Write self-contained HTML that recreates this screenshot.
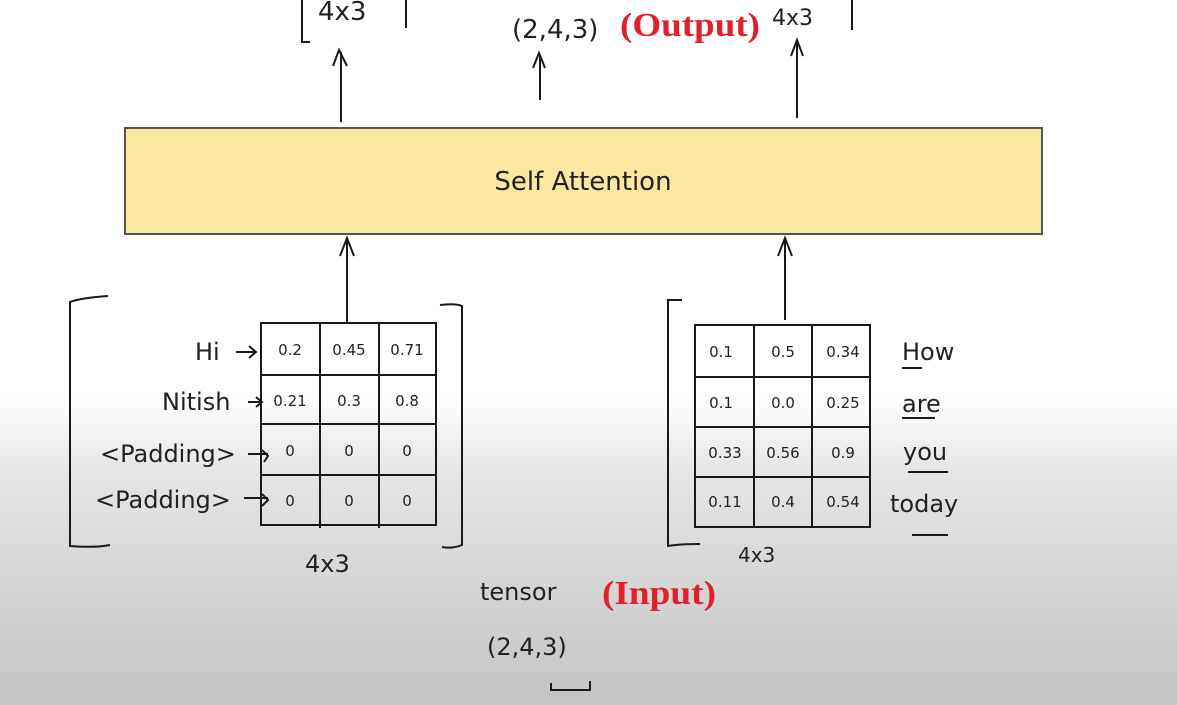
<!DOCTYPE html>
<html><head><meta charset="utf-8"><style>
html,body{margin:0;padding:0}
body{width:1177px;height:705px;overflow:hidden;background:linear-gradient(to bottom,#fff 0px,#fff 395px,#e6e6e6 470px,#c4c4c4 700px);}
svg{position:absolute;left:0;top:0}
text{font-family:"DejaVu Sans","Liberation Sans",sans-serif;fill:#222}
text.red{font-family:"Liberation Serif",serif;font-weight:bold;fill:#e0202a}
</style></head><body>
<svg width="1177" height="705" viewBox="0 0 1177 705">
<g stroke="#1a1a1a" stroke-width="2" fill="none">
<path d="M341 122 V52 M333 66 L339 50 L347 66"/>
<path d="M540 100 V55 M533 68 L539 53 L545 68"/>
<path d="M797 118 V42 M791 56 L797 40 L803 56"/>
<path d="M302 0 V42 H310"/><path d="M406 0 V28"/><path d="M852 0 V30"/>
<path d="M347 322 V240 M340 256 L347 238 L354 256"/>
<path d="M785 320 V240 M778 256 L785 238 L792 256"/>
<path d="M108 296 Q80 298 70 302 V546 Q95 548 110 545"/>
<path d="M440 305 Q455 303 462 306 V545 Q452 549 442 547"/>
<path d="M682 300 H668 V546 Q680 544 700 544"/>
<rect x="261" y="323" width="175" height="202"/>
<path d="M320 323 V528 M379 323 V528 M261 375 H436 M261 424 H436 M261 475 H436"/>
<rect x="695" y="325" width="175" height="202"/>
<path d="M754 325 V527 M812 325 V527 M695 377 H870 M695 427 H870 M695 477 H870"/>
<path d="M236 352 L256 352 M249 346 L256 352 L249 358"/>
<path d="M248 402 L262 402 M256 397 L262 402 L256 407"/>
<path d="M248 454 L268 454 M262 450 L268 456 L264 462"/>
<path d="M244 498 L268 498 M262 494 L268 500 L262 506"/>
<path d="M902 368 H922 M902 418 H935 M908 472 H948 M912 535 H948 M551 683 V690 H590 V681"/>
</g>
<rect x="125" y="128" width="917" height="106" fill="#fbe8a0" stroke="#555" stroke-width="2"/>
<text x="583" y="190" font-size="26" text-anchor="middle">Self Attention</text>
<g font-size="26">
<text x="318" y="20">4x3</text>
<text x="512" y="38">(2,4,3)</text>
<text x="772" y="25" font-size="22">4x3</text>
</g>
<text x="620" y="36" class="red" font-size="34" textLength="140" lengthAdjust="spacingAndGlyphs">(Output)</text>
<g font-size="24">
<text x="195" y="360">Hi</text>
<text x="162" y="410">Nitish</text>
<text x="100" y="462">&lt;Padding&gt;</text>
<text x="95" y="508">&lt;Padding&gt;</text>
<text x="902" y="360">How</text>
<text x="902" y="412">are</text>
<text x="903" y="460">you</text>
<text x="890" y="512">today</text>
<text x="305" y="572">4x3</text>
<text x="738" y="562" font-size="20">4x3</text>
<text x="480" y="600">tensor</text>
<text x="487" y="655">(2,4,3)</text>
</g>
<text x="602" y="604" class="red" font-size="34" textLength="114" lengthAdjust="spacingAndGlyphs">(Input)</text>
<g font-size="15" text-anchor="middle">
<text x="290" y="355">0.2</text><text x="349" y="355">0.45</text><text x="407" y="355">0.71</text>
<text x="290" y="406">0.21</text><text x="349" y="406">0.3</text><text x="407" y="406">0.8</text>
<text x="290" y="456">0</text><text x="349" y="456">0</text><text x="407" y="456">0</text>
<text x="290" y="506">0</text><text x="349" y="506">0</text><text x="407" y="506">0</text>
<text x="721" y="357">0.1</text><text x="783" y="357">0.5</text><text x="843" y="357">0.34</text>
<text x="721" y="408">0.1</text><text x="783" y="408">0.0</text><text x="843" y="408">0.25</text>
<text x="725" y="458">0.33</text><text x="783" y="458">0.56</text><text x="843" y="458">0.9</text>
<text x="725" y="507">0.11</text><text x="783" y="507">0.4</text><text x="843" y="507">0.54</text>
</g>
</svg>
</body></html>
